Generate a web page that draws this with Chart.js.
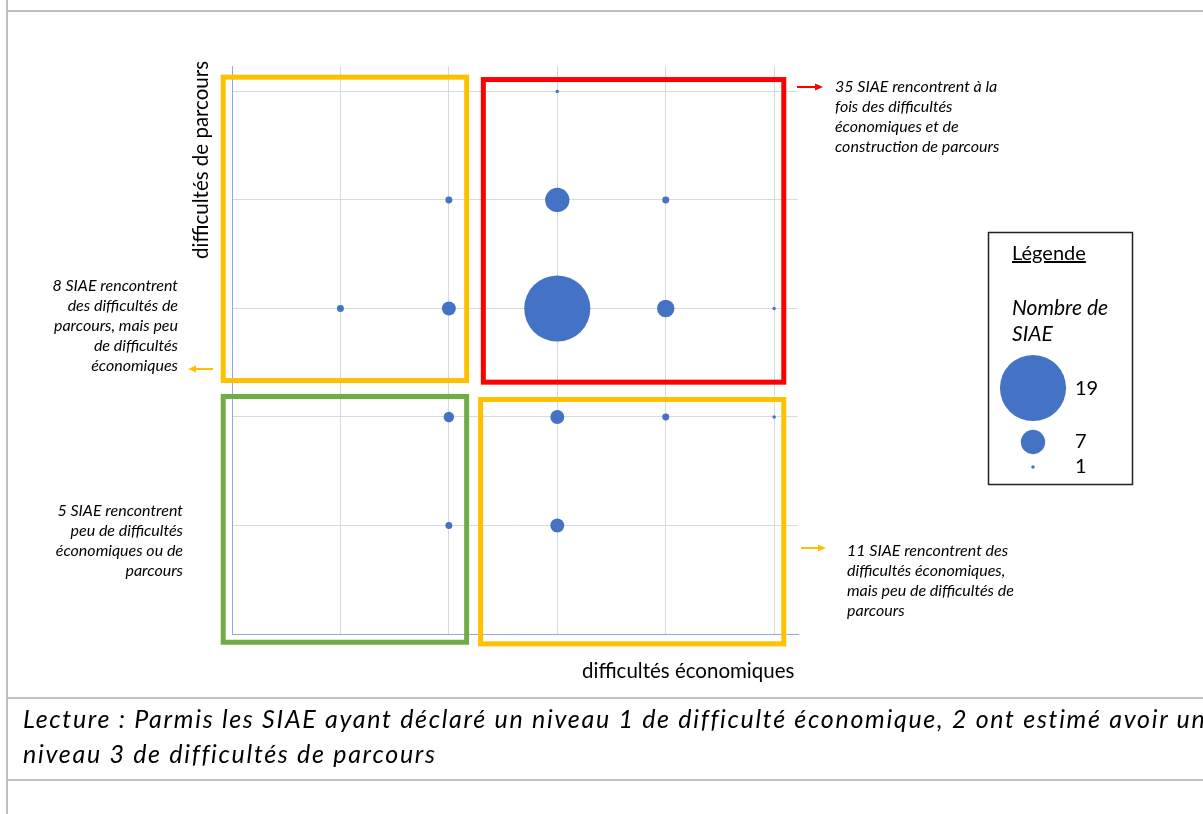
<!DOCTYPE html>
<html>
<head>
<meta charset="utf-8">
<script src="https://cdn.jsdelivr.net/npm/chart.js@4.4.1/dist/chart.umd.min.js"></script>
<style>
  body { margin: 0; width: 1203px; height: 814px; overflow: hidden; position: relative; background: #fff; font-family: Lato, 'Open Sans', sans-serif; color: #000; }
  #wrap { position: absolute; left: 0; top: 0; width: 1203px; height: 814px; }
  svg { position: absolute; left: 0; top: 0; pointer-events: none; }
  .note { position: absolute; font-style: italic; font-size: 16px; line-height: 20px; white-space: nowrap; }
  .right { text-align: right; }
  .axis-title { position: absolute; font-size: 20.5px; white-space: nowrap; }
  .leg { position: absolute; font-size: 20px; white-space: nowrap; }
  .lecture { position: absolute; left: 23px; font-style: italic; font-size: 25px; letter-spacing: 1.7px; white-space: nowrap; }
</style>
</head>
<body>
<div id="wrap"><canvas id="canvas" width="1203" height="814"></canvas></div>

<svg width="1203" height="814">
  <!-- table lines -->
  <line x1="7" y1="0" x2="7" y2="814" stroke="#c0c0c0" stroke-width="2"/>
  <line x1="7" y1="11" x2="1203" y2="11" stroke="#c0c0c0" stroke-width="2"/>
  <line x1="7" y1="698" x2="1203" y2="698" stroke="#c0c0c0" stroke-width="2"/>
  <line x1="7" y1="780" x2="1203" y2="780" stroke="#c0c0c0" stroke-width="2"/>
  <!-- arrows -->
  <line x1="797" y1="87" x2="816" y2="87" stroke="#ff0000" stroke-width="2"/>
  <polygon points="823,87 815,83.5 815,90.5" fill="#ff0000"/>
  <line x1="213" y1="369" x2="195" y2="369" stroke="#ffc000" stroke-width="2"/>
  <polygon points="188,369 196,365.5 196,372.5" fill="#ffc000"/>
  <line x1="801" y1="548" x2="819" y2="548" stroke="#ffc000" stroke-width="2"/>
  <polygon points="826,548 818,544.5 818,551.5" fill="#ffc000"/>
  <!-- legend frame -->
  <rect x="988.5" y="232.5" width="144" height="252" fill="none" stroke="#222" stroke-width="1.5"/>
</svg>

<div class="axis-title" style="left:200px; top:160px; transform: translate(-50%, -50%) rotate(-90deg);">difficultés de parcours</div>
<div class="axis-title" style="left:582px; top:658px;">difficultés économiques</div>

<div class="note" style="left:835px; top:76px;">35 SIAE rencontrent à la<br>fois des difficultés<br>économiques et de<br>construction de parcours</div>
<div class="note right" style="left:0px; width:178px; top:275px;">8 SIAE rencontrent<br>des difficultés de<br>parcours, mais peu<br>de difficultés<br>économiques</div>
<div class="note right" style="left:0px; width:183px; top:500px;">5 SIAE rencontrent<br>peu de difficultés<br>économiques ou de<br>parcours</div>
<div class="note" style="left:847px; top:540px;">11 SIAE rencontrent des<br>difficultés économiques,<br>mais peu de difficultés de<br>parcours</div>

<div class="leg" style="left:1012px; top:240px; text-decoration: underline;">Légende</div>
<div class="leg" style="left:1012px; top:294px; font-style: italic; font-size: 21px; line-height: 26px;">Nombre de<br>SIAE</div>
<div class="leg" style="left:1075px; top:375px;">19</div>
<div class="leg" style="left:1075px; top:428px;">7</div>
<div class="leg" style="left:1075px; top:453px;">1</div>

<div class="lecture" style="top:703px;">Lecture : Parmis les SIAE ayant déclaré un niveau 1 de difficulté économique, 2 ont estimé avoir un</div>
<div class="lecture" style="top:738px;">niveau 3 de difficultés de parcours</div>

<script>
// niveau de difficultés économiques (x), de parcours (y), nombre de SIAE
const econLevels     = [3, 2, 3, 4, 1, 2, 3, 4, 5, 2, 3, 4, 5, 2, 3]
const parcoursLevels = [5, 4, 4, 4, 3, 3, 3, 3, 3, 2, 2, 2, 2, 1, 1]
const siaeCounts     = [1, 2, 7, 2, 2, 4, 19, 5, 1, 3, 4, 2, 1, 2, 4]
const legendCounts   = [19, 7, 1]

// bubble width proportional to count, like the Excel chart
const radiusFor = (n) => n * 1.74
const blue = '#4472c4'

// quadrant frames, in axis units
const frames = [
  { color: '#ffc000', x0: -0.081, x1: 2.164, y0: 2.336, y1: 5.132 },
  { color: '#ff0000', x0: 2.318, x1: 5.089, y0: 2.321, y1: 5.11 },
  { color: '#70ad47', x0: -0.081, x1: 2.164, y0: -0.076, y1: 2.189 },
  { color: '#ffc000', x0: 2.293, x1: 5.089, y0: -0.091, y1: 2.161 },
]

const points = econLevels.map((x, i) => ({
  x: x,
  y: parcoursLevels[i],
  r: radiusFor(siaeCounts[i]),
}))

const framesPlugin = {
  id: 'frames',
  afterDraw(chart) {
    const ctx = chart.ctx
    const xs = chart.scales.x
    const ys = chart.scales.y
    ctx.save()
    ctx.lineWidth = 5
    frames.forEach((f) => {
      const left = xs.getPixelForValue(f.x0)
      const right = xs.getPixelForValue(f.x1)
      const top = ys.getPixelForValue(f.y1)
      const bottom = ys.getPixelForValue(f.y0)
      ctx.strokeStyle = f.color
      ctx.strokeRect(left, top, right - left, bottom - top)
    })
    // legend bubbles
    const legendY = [388, 442, 467]
    ctx.fillStyle = blue
    legendCounts.forEach((n, i) => {
      ctx.beginPath()
      ctx.arc(1033, legendY[i], radiusFor(n), 0, Math.PI * 2)
      ctx.fill()
    })
    ctx.restore()
  },
}

const canvas = document.getElementById('canvas')
const chart = new Chart(canvas, {
  type: 'bubble',
  data: {
    datasets: [
      {
        label: 'Nombre de SIAE',
        data: points,
        backgroundColor: blue,
        borderColor: blue,
        borderWidth: 0,
      },
    ],
  },
  options: {
    responsive: false,
    animation: false,
    events: [],
    layout: {
      autoPadding: false,
      padding: { left: 232, top: 66, right: 405, bottom: 180 },
    },
    plugins: {
      legend: { display: false },
      tooltip: { enabled: false },
    },
    scales: {
      x: {
        type: 'linear',
        min: 0,
        max: 5.22,
        ticks: { display: false, stepSize: 1, includeBounds: false },
        grid: { color: '#d9d9d9', drawTicks: false },
        border: { color: '#8eaadb', width: 1 },
      },
      y: {
        type: 'linear',
        min: 0,
        max: 5.235,
        ticks: { display: false, stepSize: 1, includeBounds: false },
        grid: { color: '#d9d9d9', drawTicks: false },
        border: { color: '#8eaadb', width: 1 },
      },
    },
  },
  plugins: [framesPlugin],
})
</script>
</body>
</html>
